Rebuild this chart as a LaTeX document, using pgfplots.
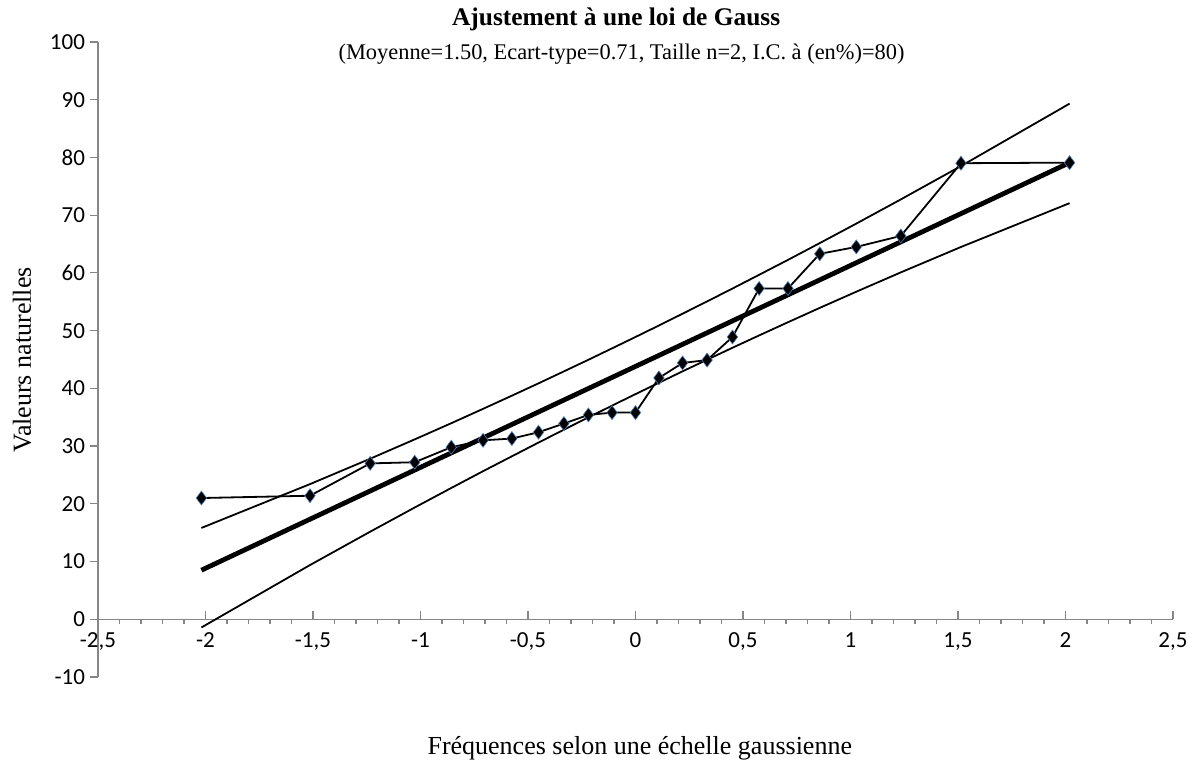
\documentclass[border=0pt]{standalone}
\usepackage{pgfplots}
\pgfplotsset{compat=1.18}
\usepackage{fontspec}
\setmainfont{Liberation Serif}
\newfontfamily\carlito{Carlito}
\definecolor{axisgray}{RGB}{134,134,134}
\definecolor{markedge}{RGB}{79,129,189}

% quantiles gaussiens et valeurs observees
\pgfplotstableread{
z       obs   up     low
-2.019  21.0  15.82  -1.42
-1.514  21.4  23.41   9.39
-1.234  27.0  27.81  15.17
-1.027  27.2  31.16  19.36
-0.857  29.8  33.96  22.74
-0.709  31.0  36.45  25.65
-0.575  31.3  38.73  28.23
-0.451  32.4  40.87  30.61
-0.333  33.9  42.94  32.84
-0.219  35.4  44.95  34.97
-0.109  35.8  46.93  37.01
 0.000  35.8  48.90  39.00
 0.109  41.8  50.89  40.97
 0.219  44.4  52.93  42.95
 0.333  44.9  55.06  44.96
 0.451  48.9  57.29  47.03
 0.575  57.3  59.67  49.17
 0.709  57.3  62.25  51.45
 0.857  63.3  65.16  53.94
 1.027  64.5  68.54  56.74
 1.234  66.4  72.73  60.09
 1.514  79.0  78.51  64.49
 2.019  79.1  89.32  72.08
}\gauss

\begin{document}
\begin{tikzpicture}
\begin{axis}[
    scale only axis,
    width=537.5pt, height=317.5pt,
    xmin=-2.5, xmax=2.5,
    ymin=-10, ymax=100,
    axis x line=middle,
    axis y line=left,
    axis line style={draw=axisgray, line width=0.6pt, -},
    hide obscured x ticks=false,
    hide obscured y ticks=false,
    xtick distance=0.5,
    ytick distance=10,
    minor x tick num=4,
    tick align=center,
    major tick length=4pt,
    minor tick length=2.5pt,
    every tick/.style={draw=axisgray, line width=0.6pt},
    major x tick style={yshift=2pt},
    minor x tick style={yshift=-1.25pt},
    major y tick style={xshift=-2pt},
    /pgf/number format/use comma,
    /pgf/number format/assume math mode=true,
    tick label style={font=\carlito\fontsize{11.5}{13}\selectfont, black},
    xticklabel style={yshift=-1pt},
    yticklabel style={xshift=-1pt},
    clip=false,
  ]

  % bandes de confiance
  \addplot[black, line width=0.9pt, mark=none] table[x=z, y=up] {\gauss};
  \addplot[black, line width=0.9pt, mark=none] table[x=z, y=low] {\gauss};

  % droite d'ajustement
  \addplot[black, line width=2.4pt, mark=none] coordinates {(-2.019,8.5) (2.019,79.1)};

  % valeurs observees
  \addplot[black, line width=0.9pt, mark=diamond*, mark size=3.5pt,
    mark options={fill=black, draw=markedge, line width=0.3pt}]
    table[x=z, y=obs] {\gauss};

  \node[font=\bfseries\fontsize{12.7}{14}\selectfont] at (rel axis cs:0.482,1.036) {Ajustement à une loi de Gauss};
  \node[font=\fontsize{11.2}{12}\selectfont] at (rel axis cs:0.487,0.981) {(Moyenne=1.50, Ecart-type=0.71, Taille n=2, I.C. à (en\%)=80)};
  \node[font=\fontsize{13}{15}\selectfont] at (rel axis cs:0.504,-0.112) {Fréquences selon une échelle gaussienne};
  \node[font=\fontsize{13}{15}\selectfont, rotate=90] at (rel axis cs:-0.0707,0.499) {Valeurs naturelles};
\end{axis}
\pgfresetboundingbox
\path ([shift={(-49pt,-45.5pt)}]current axis.south west) rectangle ([shift={(13.5pt,21pt)}]current axis.north east);
\end{tikzpicture}
\end{document}
